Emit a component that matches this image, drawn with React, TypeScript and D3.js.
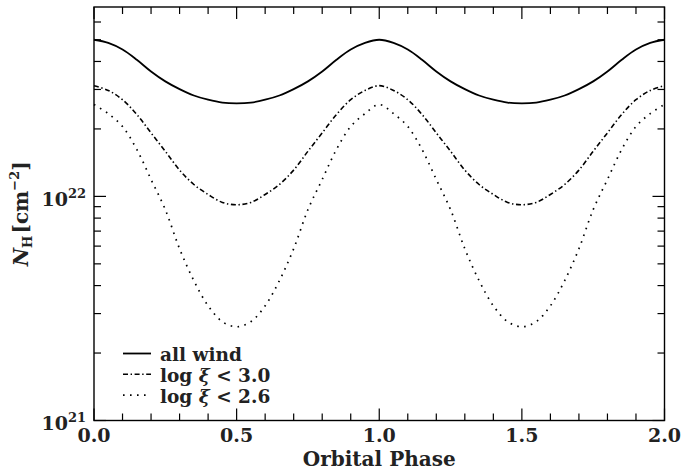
import React from "react";
import * as d3 from "d3";

const phases = [
  0.0, 0.05, 0.1, 0.15, 0.2, 0.25, 0.3, 0.35, 0.4, 0.45, 0.5, 0.55, 0.6, 0.65, 0.7, 0.75, 0.8, 0.85, 0.9, 0.95,
  1.0, 1.05, 1.1, 1.15, 1.2, 1.25, 1.3, 1.35, 1.4, 1.45, 1.5, 1.55, 1.6, 1.65, 1.7, 1.75, 1.8, 1.85, 1.9, 1.95, 2.0,
];

const allWind = [
  5.0e22, 4.84e22, 4.52e22, 4.07e22, 3.61e22, 3.26e22, 3.01e22, 2.82e22, 2.7e22, 2.62e22, 2.6e22,
  2.62e22, 2.7e22, 2.82e22, 3.01e22, 3.26e22, 3.61e22, 4.07e22, 4.52e22, 4.84e22, 5.0e22,
  4.84e22, 4.52e22, 4.07e22, 3.61e22, 3.26e22, 3.01e22, 2.82e22, 2.7e22, 2.62e22, 2.6e22,
  2.62e22, 2.7e22, 2.82e22, 3.01e22, 3.26e22, 3.61e22, 4.07e22, 4.52e22, 4.84e22, 5.0e22,
];

const logXi30 = [
  3.12e22, 2.97e22, 2.7e22, 2.32e22, 1.92e22, 1.59e22, 1.31e22, 1.13e22, 1.02e22, 9.4e21, 9.18e21,
  9.4e21, 1.02e22, 1.13e22, 1.31e22, 1.59e22, 1.92e22, 2.32e22, 2.7e22, 2.97e22, 3.12e22,
  2.97e22, 2.7e22, 2.32e22, 1.92e22, 1.59e22, 1.31e22, 1.13e22, 1.02e22, 9.4e21, 9.18e21,
  9.4e21, 1.02e22, 1.13e22, 1.31e22, 1.59e22, 1.92e22, 2.32e22, 2.7e22, 2.97e22, 3.12e22,
];

const logXi26 = [
  2.57e22, 2.34e22, 2.05e22, 1.62e22, 1.19e22, 8.73e21, 5.84e21, 4.21e21, 3.25e21, 2.76e21, 2.62e21,
  2.76e21, 3.25e21, 4.21e21, 5.84e21, 8.73e21, 1.19e22, 1.62e22, 2.05e22, 2.34e22, 2.57e22,
  2.34e22, 2.05e22, 1.62e22, 1.19e22, 8.73e21, 5.84e21, 4.21e21, 3.25e21, 2.76e21, 2.62e21,
  2.76e21, 3.25e21, 4.21e21, 5.84e21, 8.73e21, 1.19e22, 1.62e22, 2.05e22, 2.34e22, 2.57e22,
];

const xMajorTicks = [0.0, 0.5, 1.0, 1.5, 2.0];
const xMajorLabels = ["0.0", "0.5", "1.0", "1.5", "2.0"];
const xMinorTicks = [0.1, 0.2, 0.3, 0.4, 0.6, 0.7, 0.8, 0.9, 1.1, 1.2, 1.3, 1.4, 1.6, 1.7, 1.8, 1.9];
const yMajorTicks = [1e21, 1e22];
const yMajorExp = ["21", "22"];
const yMinorTicks = [2e21, 3e21, 4e21, 5e21, 6e21, 7e21, 8e21, 9e21, 2e22, 3e22, 4e22, 5e22, 6e22];

const seriesNames = ["all wind", "log ξ < 3.0", "log ξ < 2.6"];

const W = 681;
const H = 475;
const L = 94;
const R = 664.5;
const T = 7;
const B = 420.5;
const FONT = "DejaVu Serif";

export default function App() {
  const x = d3.scaleLinear().domain([0, 2]).range([L, R]);
  const y = d3.scaleLog().domain([1e21, 7e22]).range([B, T]);

  const line = (vals: number[]) =>
    d3
      .line<number>()
      .x((_, i) => x(phases[i]))
      .y((d) => y(d))
      .curve(d3.curveCatmullRom.alpha(0.5))(vals) as string;

  const styles = [
    { dash: undefined, width: 1.8, cap: "butt" },
    { dash: "5 2.6 1.4 2.6", width: 1.6, cap: "butt" },
    { dash: "1.6 5.4", width: 1.7, cap: "butt" },
  ];
  const series = [allWind, logXi30, logXi26];

  const major = 12;
  const minor = 7;

  return (
    <svg width={W} height={H} style={{ position: "absolute", left: 0, top: 0, background: "#fff" }}>
      <rect x={0} y={0} width={W} height={H} fill="#fff" />
      <g fill="none" stroke="#000">
        {series.map((s, i) => (
          <path
            key={i}
            d={line(s)}
            strokeWidth={styles[i].width}
            strokeDasharray={styles[i].dash}
            strokeLinecap={styles[i].cap as any}
          />
        ))}
      </g>
      <g stroke="#000" strokeWidth={1.2}>
        {xMajorTicks.map((t) => (
          <g key={"xM" + t}>
            <line x1={x(t)} x2={x(t)} y1={B} y2={B - major} />
            <line x1={x(t)} x2={x(t)} y1={T} y2={T + major} />
          </g>
        ))}
        {xMinorTicks.map((t) => (
          <g key={"xm" + t}>
            <line x1={x(t)} x2={x(t)} y1={B} y2={B - minor} />
            <line x1={x(t)} x2={x(t)} y1={T} y2={T + minor} />
          </g>
        ))}
        {yMajorTicks.map((t) => (
          <g key={"yM" + t}>
            <line x1={L} x2={L + major} y1={y(t)} y2={y(t)} />
            <line x1={R} x2={R - major} y1={y(t)} y2={y(t)} />
          </g>
        ))}
        {yMinorTicks.map((t) => (
          <g key={"ym" + t}>
            <line x1={L} x2={L + minor} y1={y(t)} y2={y(t)} />
            <line x1={R} x2={R - minor} y1={y(t)} y2={y(t)} />
          </g>
        ))}
      </g>
      <rect x={L} y={T} width={R - L} height={B - T} fill="none" stroke="#000" strokeWidth={1.4} />
      <g fontFamily={FONT} fontWeight="bold" fontSize={19} fill="#222">
        {xMajorTicks.map((t, i) => (
          <text key={"xl" + t} x={x(t)} y={442} textAnchor="middle">
            {xMajorLabels[i]}
          </text>
        ))}
        {yMajorTicks.map((t, i) => (
          <text key={"yl" + t} x={86} y={y(t) + 9.5} textAnchor="end">
            10
            <tspan fontSize={13} dy={-8}>
              {yMajorExp[i]}
            </tspan>
          </text>
        ))}
      </g>
      <text x={(L + R) / 2} y={466} textAnchor="middle" fontFamily={FONT} fontWeight="bold" fontSize={20} fill="#222">
        Orbital Phase
      </text>
      <text
        transform={`translate(28,${(T + B) / 2}) rotate(-90)`}
        textAnchor="middle"
        fontFamily={FONT}
        fontWeight="bold"
        fontSize={20}
        fill="#222"
      >
        <tspan fontStyle="italic">N</tspan>
        <tspan fontSize={13} dy={4}>H</tspan>
        <tspan dy={-4} dx={2}>[cm</tspan>
        <tspan fontSize={13} dy={-9}>−2</tspan>
        <tspan dy={9}>]</tspan>
      </text>
      {seriesNames.map((n, i) => {
        const ly = 353.5 + i * 20.8;
        return (
          <g key={"lg" + i}>
            <line
              x1={123}
              x2={151}
              y1={ly}
              y2={ly}
              stroke="#000"
              strokeWidth={styles[i].width}
              strokeDasharray={styles[i].dash}
            />
            <text x={160} y={ly + 7.5} fontFamily={FONT} fontWeight="bold" fontSize={18.5} fill="#222">
              {i === 0 ? (
                n
              ) : (
                <>
                  <tspan>log </tspan>
                  <tspan fontStyle="italic">ξ</tspan>
                  <tspan>{" " + n.split("ξ ")[1]}</tspan>
                </>
              )}
            </text>
          </g>
        );
      })}
    </svg>
  );
}
